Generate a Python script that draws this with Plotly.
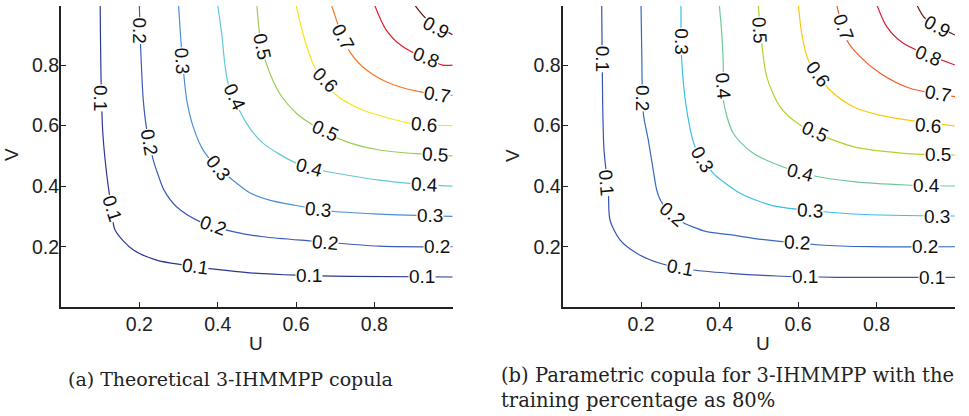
import plotly.graph_objects as go

levels = [0.1, 0.2, 0.3, 0.4, 0.5, 0.6, 0.7, 0.8, 0.9]
tick_vals = [0.2, 0.4, 0.6, 0.8]
tick_text = ["0.2", "0.4", "0.6", "0.8"]

# ---- (a) theoretical copula: contour lines (u, v) ----
a_u = [
    [0.100, 0.1025, 0.1068, 0.1185, 0.129, 0.138, 0.185, 0.244, 0.311, 0.397, 0.482, 0.601, 0.736, 1.0],
    [0.200, 0.2036, 0.210, 0.219, 0.2356, 0.248, 0.263, 0.295, 0.3545, 0.439, 0.516, 0.639, 0.813, 1.0],
    [0.300, 0.308, 0.321, 0.3375, 0.363, 0.395, 0.431, 0.482, 0.530, 0.596, 0.685, 0.813, 1.0],
    [0.400, 0.410, 0.4266, 0.4734, 0.5157, 0.601, 0.660, 0.728, 0.813, 0.889, 1.0],
    [0.500, 0.507, 0.524, 0.558, 0.601, 0.643, 0.728, 0.813, 0.923, 1.0],
    [0.600, 0.6175, 0.647, 0.7025, 0.770, 0.855, 0.902, 1.0],
    [0.690, 0.732, 0.770, 0.830, 0.9146, 1.0],
    [0.800, 0.830, 0.872, 0.974, 1.0],
    [0.902, 0.932, 1.0],
]
a_v = [
    [1.0, 0.740, 0.575, 0.420, 0.328, 0.255, 0.189, 0.156, 0.140, 0.125, 0.114, 0.106, 0.102, 0.100],
    [1.0, 0.850, 0.685, 0.586, 0.486, 0.437, 0.387, 0.332, 0.283, 0.250, 0.233, 0.219, 0.202, 0.200],
    [1.0, 0.850, 0.685, 0.596, 0.519, 0.468, 0.428, 0.378, 0.355, 0.337, 0.318, 0.308, 0.300],
    [1.0, 0.906, 0.740, 0.608, 0.542, 0.4756, 0.4535, 0.437, 0.420, 0.4095, 0.400],
    [1.0, 0.905, 0.806, 0.707, 0.641, 0.602, 0.547, 0.5195, 0.506, 0.500],
    [1.0, 0.905, 0.7946, 0.701, 0.6516, 0.6186, 0.6054, 0.600],
    [1.0, 0.855, 0.7946, 0.745, 0.712, 0.700],
    [1.0, 0.916, 0.861, 0.800, 0.800],
    [1.0, 0.954, 0.900],
]
a_lab_u = [0.1025, 0.129, 0.342, 0.632, 0.922,
           0.200, 0.224, 0.388, 0.673, 0.960,
           0.310, 0.400, 0.657, 0.943,
           0.442, 0.634, 0.927,
           0.512, 0.673, 0.955,
           0.673, 0.927,
           0.721, 0.960,
           0.932,
           0.958]
a_lab_v = [0.691, 0.328, 0.134, 0.104, 0.101,
           0.913, 0.546, 0.270, 0.214, 0.200,
           0.813, 0.461, 0.322, 0.304,
           0.695, 0.462, 0.406,
           0.863, 0.583, 0.505,
           0.751, 0.603,
           0.892, 0.703,
           0.826,
           0.925]
a_lab_t = ["0.1"] * 5 + ["0.2"] * 5 + ["0.3"] * 4 + ["0.4"] * 3 + ["0.5"] * 3 + ["0.6"] * 2 + ["0.7"] * 2 + ["0.8", "0.9"]
a_lab_ang = [90, 72, 8, 0, 0,
             90, 80, 20, 5, 0,
             87, 52, 5, 0,
             65, 15, 3,
             78, 25, 3,
             45, 5,
             62, 10,
             22,
             28]

# ---- (b) parametric copula ----
b_u = [
    [0.0996, 0.102, 0.1055, 0.1165, 0.1208, 0.1463, 0.1888, 0.248, 0.333, 0.427, 0.5456, 0.6985, 1.0],
    [0.1998, 0.2016, 0.2057, 0.2184, 0.231, 0.2398, 0.250, 0.270, 0.2992, 0.3672, 0.4266, 0.486, 0.656, 0.7834, 1.0],
    [0.3017, 0.3035, 0.3163, 0.3374, 0.360, 0.390, 0.420, 0.450, 0.490, 0.537, 0.7408, 1.0],
    [0.3993, 0.4055, 0.4096, 0.4096, 0.435, 0.486, 0.571, 0.6305, 0.7408, 0.877, 1.0],
    [0.4986, 0.5074, 0.5201, 0.554, 0.605, 0.7408, 0.8682, 1.0],
    [0.6007, 0.6093, 0.626, 0.6814, 0.7408, 0.826, 1.0],
    [0.6985, 0.724, 0.758, 0.809, 0.8853, 1.0],
    [0.8005, 0.826, 0.8683, 1.0],
    [0.9024, 0.9236, 1.0],
]
b_v = [
    [1.0, 0.685, 0.5195, 0.3818, 0.2883, 0.2223, 0.1783, 0.1453, 0.1232, 0.1123, 0.1034, 0.099, 0.099],
    [1.0, 0.850, 0.641, 0.5525, 0.453, 0.3874, 0.352, 0.318, 0.285, 0.2497, 0.2400, 0.2279, 0.2057, 0.2001, 0.200],
    [1.0, 0.8167, 0.6516, 0.5304, 0.480, 0.435, 0.405, 0.378, 0.355, 0.335, 0.3081, 0.3015],
    [1.0, 0.905, 0.7946, 0.6846, 0.5746, 0.5086, 0.459, 0.4369, 0.4148, 0.4039, 0.4006],
    [1.0, 0.8718, 0.7616, 0.6625, 0.602, 0.5304, 0.5086, 0.503],
    [1.0, 0.905, 0.8167, 0.7176, 0.6625, 0.6295, 0.5987],
    [1.0, 0.8827, 0.8276, 0.7728, 0.7233, 0.6955],
    [1.0, 0.9267, 0.8718, 0.800],
    [1.0, 0.9544, 0.899],
]
b_lab_u = [0.101, 0.112, 0.299, 0.618, 0.941,
           0.205, 0.2800, 0.597, 0.9235,
           0.303, 0.356, 0.6305, 0.954,
           0.410, 0.605, 0.9286,
           0.5031, 0.643, 0.9567,
           0.652, 0.931,
           0.714, 0.9567,
           0.931,
           0.955]
b_lab_v = [0.820, 0.413, 0.132, 0.101, 0.099,
           0.691, 0.306, 0.213, 0.200,
           0.880, 0.488, 0.321, 0.300,
           0.7305, 0.446, 0.402,
           0.9157, 0.582, 0.504,
           0.770, 0.602,
           0.9257, 0.707,
           0.830,
           0.928]
b_lab_t = ["0.1"] * 5 + ["0.2"] * 4 + ["0.3"] * 4 + ["0.4"] * 3 + ["0.5"] * 3 + ["0.6"] * 2 + ["0.7"] * 2 + ["0.8", "0.9"]
b_lab_ang = [90, 85, 10, 0, 0,
             90, 40, 3, 0,
             90, 60, 3, 0,
             85, 15, 0,
             87, 25, 0,
             55, 5,
             70, 10,
             22,
             28]

a_colors = ["#2b3990", "#3b5bb5", "#4b8fd6", "#63c8d6", "#9acd5a",
            "#f5e61a", "#f47a2a", "#e8192c", "#6b0f14"]
b_colors = ["#3552b0", "#3569c4", "#3bbde8", "#6fc79a", "#b7cf2c",
            "#fbc70d", "#f6592a", "#d81d37", "#6e1a1a"]

fig = go.Figure()
for us, vs, cols, xa, ya in [(a_u, a_v, a_colors, "x", "y"), (b_u, b_v, b_colors, "x2", "y2")]:
    for i, lev in enumerate(levels):
        fig.add_trace(go.Scatter(
            x=us[i], y=vs[i], mode="lines", xaxis=xa, yaxis=ya,
            line=dict(color=cols[i], width=1.2, shape="spline", smoothing=0.8),
            showlegend=False, hoverinfo="skip", name=str(lev)))

label_font = dict(family="Liberation Sans, Arial, sans-serif", size=19, color="#111")
annotations = []
for lu, lv, lt, la, xr, yr in [(a_lab_u, a_lab_v, a_lab_t, a_lab_ang, "x", "y"),
                               (b_lab_u, b_lab_v, b_lab_t, b_lab_ang, "x2", "y2")]:
    for u, v, t, ang in zip(lu, lv, lt, la):
        annotations.append(dict(x=u, y=v, xref=xr, yref=yr, text=t, showarrow=False,
                                textangle=ang, font=label_font, bgcolor="white",
                                borderpad=0, xanchor="center", yanchor="middle"))

W, H = 969, 416
axis_font = dict(family="Liberation Sans, Arial, sans-serif", size=19.5, color="#222")
title_font = dict(family="Liberation Sans, Arial, sans-serif", size=19, color="#222")
cap_font = dict(family="DejaVu Serif, serif", size=19, color="#222")

def px(xp):
    return xp / W

def py(yp):
    return 1 - yp / H

annotations += [
    dict(x=px(11), y=py(155), xref="paper", yref="paper", text="V", textangle=-90,
         showarrow=False, font=title_font, xanchor="center", yanchor="middle"),
    dict(x=px(512), y=py(155), xref="paper", yref="paper", text="V", textangle=-90,
         showarrow=False, font=title_font, xanchor="center", yanchor="middle"),
    dict(x=px(256), y=py(343), xref="paper", yref="paper", text="U",
         showarrow=False, font=title_font, xanchor="center", yanchor="middle"),
    dict(x=px(763), y=py(343), xref="paper", yref="paper", text="U",
         showarrow=False, font=title_font, xanchor="center", yanchor="middle"),
    dict(x=px(230), y=py(379), xref="paper", yref="paper",
         text="(a) Theoretical 3-IHMMPP copula", showarrow=False, font=cap_font,
         xanchor="center", yanchor="middle"),
    dict(x=px(499), y=py(388), xref="paper", yref="paper", align="left",
         text="(b) Parametric copula for 3-IHMMPP with the<br>training percentage as 80%",
         showarrow=False, font=dict(cap_font, size=19.5), xanchor="left", yanchor="middle"),
]

xdomA = [61 / W, 452.7 / W]
xdomB = [562.6 / W, 955 / W]
ydom = [1 - 307.3 / H, 1 - 6 / H]

main_x = dict(range=[0, 1], tickvals=tick_vals, ticktext=tick_text, ticks="inside",
              ticklen=5, tickwidth=1, tickcolor="#222", showline=True, linecolor="#222",
              linewidth=2, showgrid=False, zeroline=False, tickfont=axis_font,
              ticklabelstandoff=-2)
main_y = dict(range=[0, 0.995], tickvals=tick_vals, ticktext=tick_text, ticks="inside",
              ticklen=5, tickwidth=1, tickcolor="#222", showline=True, linecolor="#222",
              linewidth=2, showgrid=False, zeroline=False, tickfont=axis_font,
              ticklabelstandoff=-4, domain=ydom)
mir_x = dict(range=[0, 1], tickvals=tick_vals, ticks="inside", ticklen=5, tickwidth=1,
             tickcolor="#333", showline=True, linecolor="#444", linewidth=1.2,
             showgrid=False, zeroline=False, showticklabels=False, side="top")
mir_y = dict(range=[0, 0.995], tickvals=tick_vals, ticks="inside", ticklen=5, tickwidth=1,
             tickcolor="#333", showline=True, linecolor="#444", linewidth=1.2,
             showgrid=False, zeroline=False, showticklabels=False, side="right")

fig.update_layout(
    width=W, height=H, margin=dict(l=0, r=0, t=0, b=0),
    paper_bgcolor="white", plot_bgcolor="white", showlegend=False,
    xaxis=dict(main_x, domain=xdomA, anchor="y"),
    yaxis=dict(main_y, anchor="x"),
    xaxis2=dict(main_x, domain=xdomB, anchor="y2"),
    yaxis2=dict(main_y, anchor="x2"),
    xaxis3=dict(mir_x, overlaying="x", anchor="y"),
    yaxis3=dict(mir_y, overlaying="y", anchor="x"),
    xaxis4=dict(mir_x, overlaying="x2", anchor="y2"),
    yaxis4=dict(mir_y, overlaying="y2", anchor="x2"),
    annotations=annotations,
)

fig.write_html("out.html", config={"displayModeBar": False},
               post_script="document.body.style.margin='0px';document.body.style.padding='0px';")
